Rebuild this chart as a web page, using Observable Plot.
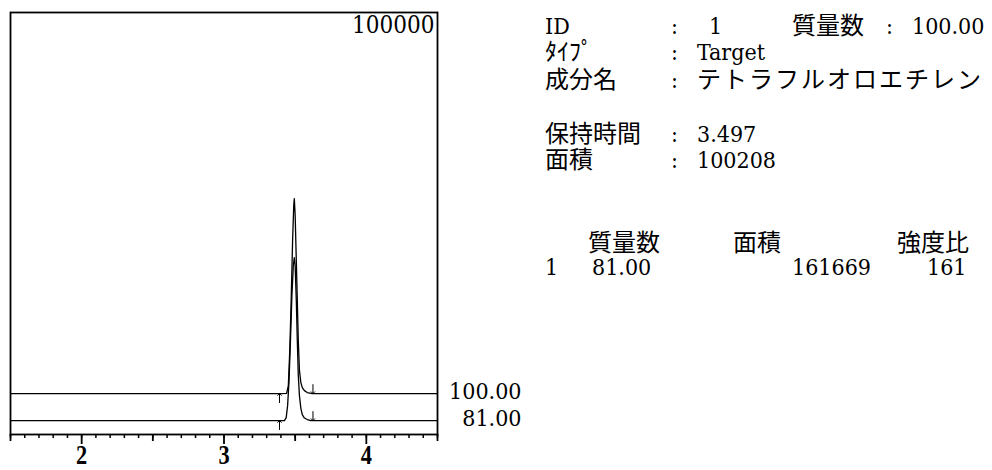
<!DOCTYPE html>
<html><head><meta charset="utf-8">
<script src="https://cdn.jsdelivr.net/npm/d3@7"></script>
<script src="https://cdn.jsdelivr.net/npm/@observablehq/plot@0.6"></script>
<style>
body{margin:0;background:#fff;}
#wrap{position:relative;width:992px;height:470px;}
</style></head><body><div id="wrap"></div>
<script>
// ---- data ----
const fullScale = "100000";
const xTickLabels = [2, 3, 4];
const halfTicks = [1.5, 2.5, 3.5, 4.5];
// m/z 100.00 trace (retention time, intensity)
const trace100Time = [1.5, 3.40, 3.440, 3.452, 3.462, 3.472, 3.482, 3.490, 3.494, 3.500, 3.508, 3.515, 3.522, 3.530, 3.540, 3.550, 3.565, 3.585, 3.620, 4.5];
const trace100Int  = [9700, 9700, 9750, 11600, 19900, 31800, 46000, 54300, 55900, 51900, 41200, 31800, 22300, 15200, 12300, 11100, 10400, 9950, 9700, 9700];
// m/z 81.00 trace
const trace81Time = [1.5, 3.425, 3.437, 3.447, 3.457, 3.467, 3.477, 3.487, 3.494, 3.500, 3.508, 3.515, 3.522, 3.530, 3.540, 3.550, 3.565, 3.585, 3.610, 4.5];
const trace81Int  = [3300, 3300, 4000, 6900, 12800, 22300, 32900, 40000, 41900, 40000, 31800, 22300, 14000, 9200, 6200, 4700, 3900, 3550, 3300, 3300];
const channelMass = ["100.00", "81.00"];
const channelBaseline = [9700, 3300];
const peakStart = [3.39, 3.39];
const peakEnd = [3.625, 3.625];

const infoLabels = ["ID", "ﾀｲﾌﾟ", "成分名", "保持時間", "面積"];
const infoValues = ["1", "Target", "テトラフルオロエチレン", "3.497", "100208"];
const massLabel = "質量数";
const massValue = "100.00";
const tableHeader = ["質量数", "面積", "強度比"];
const tableRow = ["1", "81.00", "161669", "161"];

// ---- build tables ----
const traces = [
  ...trace100Time.map((t, i) => ({t, v: trace100Int[i], ch: channelMass[0]})),
  ...trace81Time.map((t, i) => ({t, v: trace81Int[i], ch: channelMass[1]}))
];
const channels = channelMass.map((m, i) => ({mass: m, base: channelBaseline[i], start: peakStart[i], end: peakEnd[i]}));

const serif = "'Liberation Serif', 'DejaVu Serif', serif";
const numFont = "'DejaVu Serif Condensed', 'DejaVu Serif', serif";

const plot = Plot.plot({
  width: 992, height: 470,
  marginLeft: 10, marginRight: 555, marginTop: 12, marginBottom: 36,
  x: {domain: [1.5, 4.5], label: null},
  y: {domain: [0, 100000], axis: null, label: null},
  style: {background: "white", color: "black", overflow: "visible"},
  marks: [
    Plot.line(traces, {x: "t", y: "v", z: "ch", stroke: "black", strokeWidth: 1.3}),
    // integration start (up arrow below baseline) and end (down arrow above baseline)
    Plot.vector(channels, {x: "start", y: "base", length: 9, rotate: 0, anchor: "end", stroke: "black", strokeWidth: 1}),
    Plot.vector(channels, {x: "end", y: "base", length: 9, rotate: 180, anchor: "end", stroke: "black", strokeWidth: 1}),
    Plot.frame({stroke: "black", strokeWidth: 1.8}),
    Plot.axisX({interval: 0.1, tickSize: 4, tickFormat: () => "", label: null, strokeWidth: 1.5}),
    Plot.axisX({ticks: halfTicks, tickSize: 7, tickFormat: () => "", label: null, strokeWidth: 1.8}),
    Plot.axisX({ticks: xTickLabels, tickSize: 10, tickPadding: 0, label: null, strokeWidth: 1.8,
      fontSize: 28, fontWeight: "bold", fontFamily: serif, tickFormat: d => String(d)}),
    Plot.text([fullScale], {frameAnchor: "top-right", text: d => d, textAnchor: "end", lineAnchor: "top", dx: -3, dy: 3, fontSize: 24, fontFamily: numFont, fontStretch: "condensed"}),
    Plot.text(channels, {frameAnchor: "right", y: "base", text: "mass", textAnchor: "end", dx: 84, dy: -2, fontSize: 23, fontFamily: numFont, fontStretch: "condensed"})
  ]
});
document.getElementById("wrap").appendChild(plot);

// narrow the bold tick-label digits
d3.select(plot).selectAll("g[aria-label='x-axis tick label'] text").each(function() {
  const el = d3.select(this);
  if (!xTickLabels.map(String).includes(this.textContent)) return;
  const tr = el.attr("transform");
  if (tr) el.attr("transform", tr + " scale(0.8,1)");
});

// ---- info panel ----
const info = d3.select("#wrap").append("svg")
  .attr("width", 992).attr("height", 470)
  .style("position", "absolute").style("left", "0px").style("top", "0px")
  .attr("font-family", "'DejaVu Serif Condensed', 'DejaVu Serif', 'Noto Sans CJK JP', serif")
  .attr("font-stretch", "condensed")
  .attr("font-size", 23).attr("fill", "black");

const jp = "'Noto Sans CJK JP', sans-serif";
const rowY = [34, 60, 88, 142, 168];
const colLabel = 545, colColon = 671, colValue = 697;
infoLabels.forEach((lab, i) => {
  const l = info.append("text").attr("x", colLabel).attr("y", rowY[i]).text(lab);
  if (i > 0) l.attr("font-family", jp).attr("font-size", 24);
  info.append("text").attr("x", colColon).attr("y", rowY[i]).text(":");
  const v = info.append("text").attr("x", i === 0 ? 709 : colValue).attr("y", rowY[i]).text(infoValues[i]);
  if (i === 2) v.attr("font-family", jp).attr("font-size", 24).attr("letter-spacing", 2);
});
info.append("text").attr("x", 792).attr("y", rowY[0]).attr("font-family", jp).attr("font-size", 24).text(massLabel);
info.append("text").attr("x", 886).attr("y", rowY[0]).text(":");
info.append("text").attr("x", 912).attr("y", rowY[0]).text(massValue);

const headX = [588, 733, 897];
tableHeader.forEach((h, i) => info.append("text").attr("x", headX[i]).attr("y", 251).attr("font-family", jp).attr("font-size", 24).text(h));
const rowX = [545, 592, 792, 927];
tableRow.forEach((c, i) => info.append("text").attr("x", rowX[i]).attr("y", 275).text(c));
</script></body></html>
